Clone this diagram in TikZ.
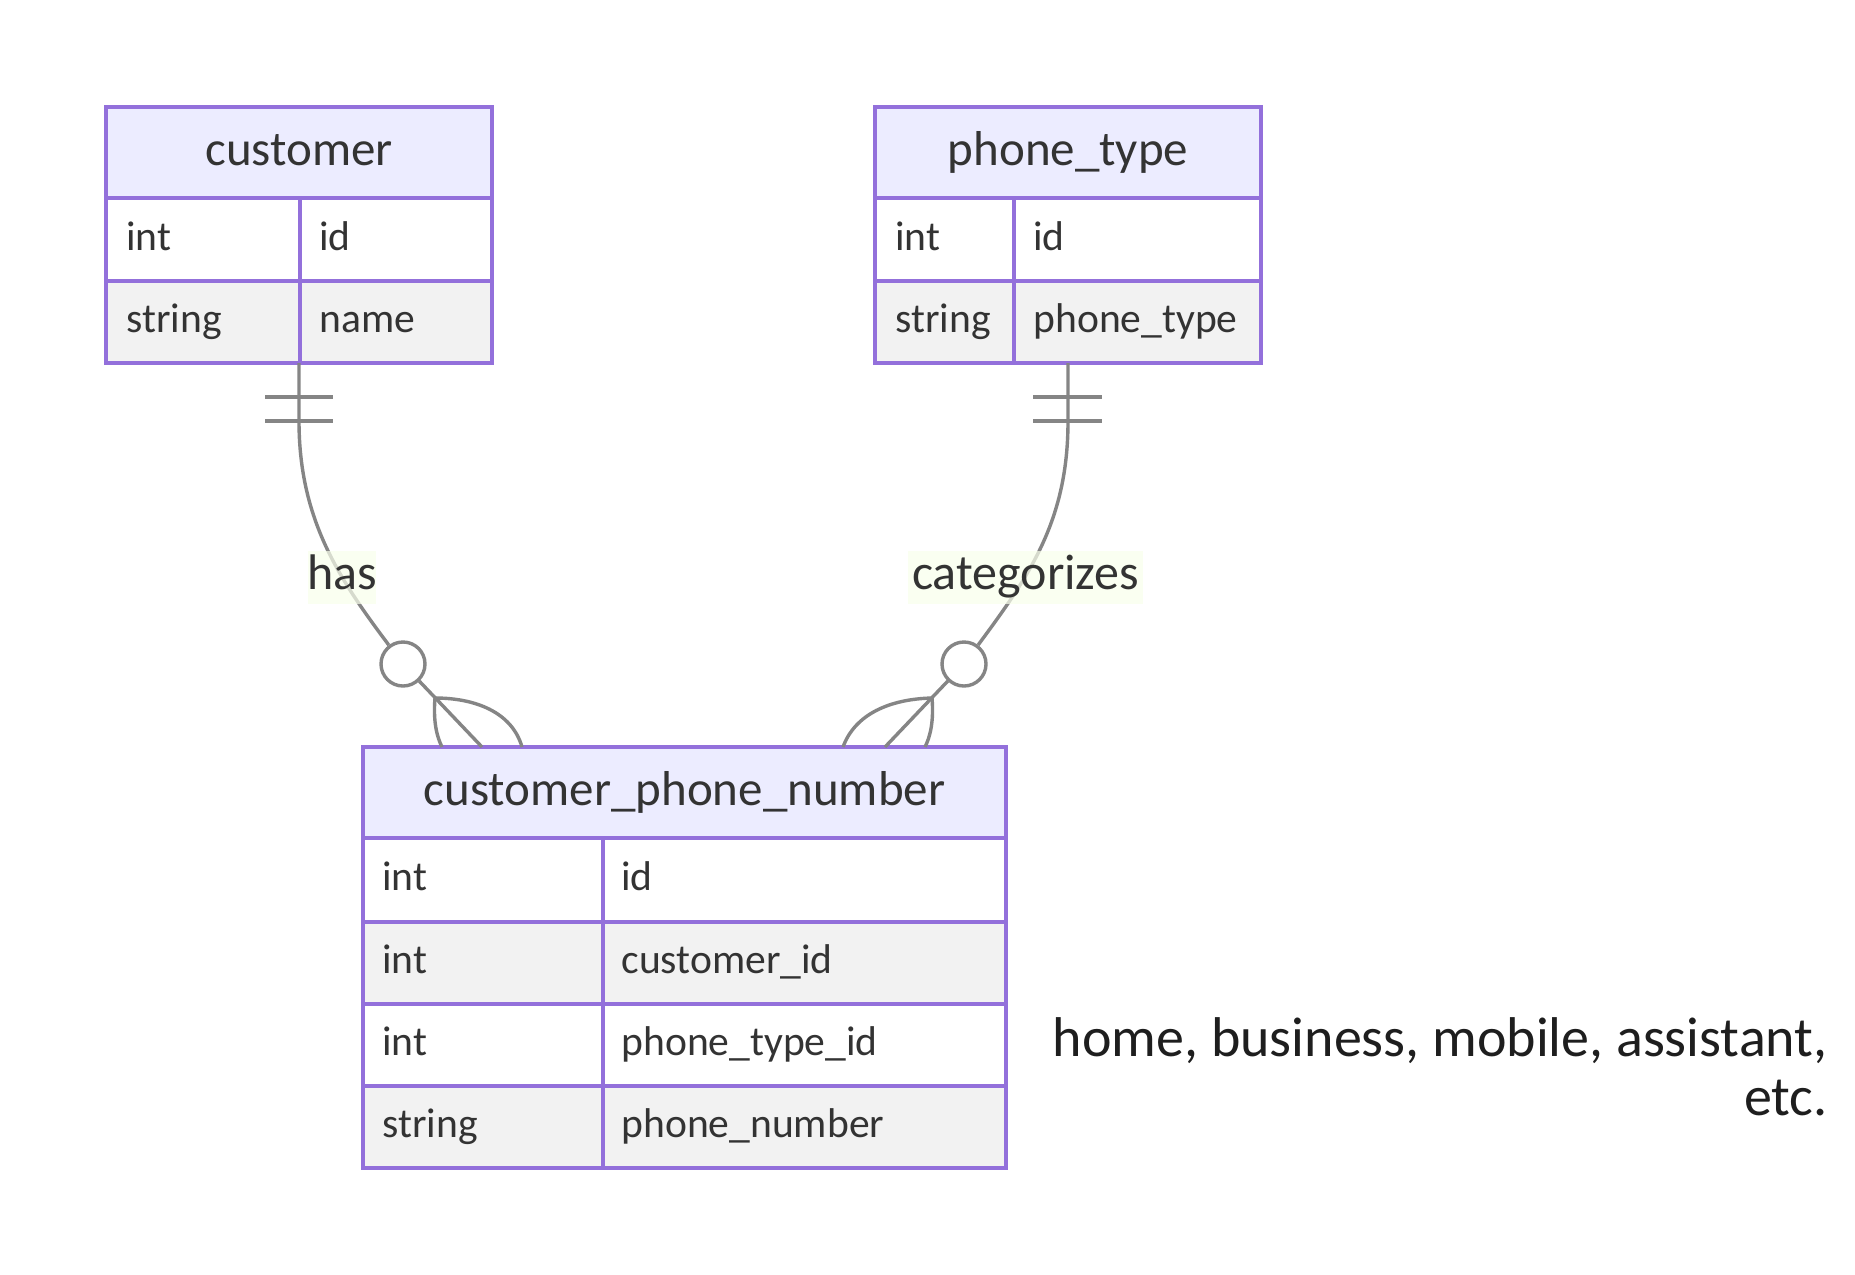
\documentclass[tikz,border=0pt]{standalone}
\usepackage{fontspec}
\setmainfont{Carlito}
\definecolor{ebord}{HTML}{9370DB}
\definecolor{ehead}{HTML}{ECECFF}
\definecolor{erow}{HTML}{F2F2F2}
\definecolor{etext}{HTML}{333333}
\definecolor{eline}{HTML}{858585}
\definecolor{elab}{RGB}{249,255,236}
\definecolor{enote}{HTML}{1E1E1E}
\begin{document}
\begin{tikzpicture}[x=0.5pt,y=-0.5pt,
  tbl/.style={draw=ebord,line width=1.75pt},
  hdr/.style={font=\fontsize{24.5}{29}\selectfont,text=etext,inner sep=0,anchor=base},
  attr/.style={font=\fontsize{20.8}{25}\selectfont,text=etext,inner sep=0,anchor=base west},
  rel/.style={draw=eline,line width=1.7pt},
  zero/.style={circle,draw=eline,line width=1.7pt,fill=white,minimum size=22pt,inner sep=0},
  lab/.style={font=\fontsize{25}{30}\selectfont,text=etext,inner sep=0,anchor=base},
  labbg/.style={fill=elab,fill opacity=0.7},
  notetext/.style={font=\fontsize{28}{33}\selectfont,text=enote,inner sep=0,anchor=base east}]
\fill[white] (0,0) rectangle (1855,1274);
\useasboundingbox (0,0) rectangle (1855,1274);

% ---------- customer ----------
\fill[ehead] (106,107) rectangle (492,198);
\fill[white] (106,198) rectangle (492,281);
\fill[erow] (106,281) rectangle (492,363);
\draw[tbl] (106,107) rectangle (492,363);
\draw[tbl] (106,198) -- (492,198) (106,281) -- (492,281) (300,198) -- (300,363);
\node[hdr] (custH) at (299,165) {customer};
\node[attr] (custT1) at (126,250) {int};
\node[attr] (custN1) at (319,250) {id};
\node[attr] (custT2) at (126,332) {string};
\node[attr] (custN2) at (319,332) {name};

% ---------- phone_type ----------
\fill[ehead] (875,107) rectangle (1261,198);
\fill[white] (875,198) rectangle (1261,281);
\fill[erow] (875,281) rectangle (1261,363);
\draw[tbl] (875,107) rectangle (1261,363);
\draw[tbl] (875,198) -- (1261,198) (875,281) -- (1261,281) (1014,198) -- (1014,363);
\node[hdr] (ptH) at (1068,165) {phone\_type};
\node[attr] (ptT1) at (895,250) {int};
\node[attr] (ptN1) at (1033,250) {id};
\node[attr] (ptT2) at (895,332) {string};
\node[attr] (ptN2) at (1033,332) {phone\_type};

% ---------- customer_phone_number ----------
\fill[ehead] (363,747) rectangle (1006,838);
\fill[white] (363,838) rectangle (1006,922);
\fill[erow] (363,922) rectangle (1006,1004);
\fill[white] (363,1004) rectangle (1006,1086);
\fill[erow] (363,1086) rectangle (1006,1168);
\draw[tbl] (363,747) rectangle (1006,1168);
\draw[tbl] (363,838) -- (1006,838) (363,922) -- (1006,922)
           (363,1004) -- (1006,1004) (363,1086) -- (1006,1086)
           (603,838) -- (603,1168);
\node[hdr] (cpnH) at (684.5,805) {customer\_phone\_number};
\node[attr] (cpnT1) at (382,890) {int};
\node[attr] (cpnN1) at (621,890) {id};
\node[attr] (cpnT2) at (382,973) {int};
\node[attr] (cpnN2) at (621,973) {customer\_id};
\node[attr] (cpnT3) at (382,1055) {int};
\node[attr] (cpnN3) at (621,1055) {phone\_type\_id};
\node[attr] (cpnT4) at (382,1137) {string};
\node[attr] (cpnN4) at (621,1137) {phone\_number};

% ---------- relation: customer has customer_phone_number ----------
\coordinate (custOut) at (299,363);
\coordinate (custBend) at (299,421);
\coordinate (cpnInA) at (482,747);
\coordinate (footA) at (435,698);
\node[zero] (zeroA) at (403,664) {};
\draw[rel] (custOut) -- (custBend) .. controls (299,520) and (340,580) .. (zeroA);
\draw[rel] (zeroA) -- (cpnInA);
\draw[rel] (footA) .. controls (433,722) and (437,737) .. (442,747);
\draw[rel] (footA) .. controls (475,698) and (512,712) .. (522,747);
\draw[rel] (265,397) -- (333,397) (265,421) -- (333,421);
\fill[labbg] (308,551) rectangle (376,604);
\node[lab] (hasL) at (342,589) {has};

% ---------- relation: phone_type categorizes customer_phone_number ----------
\coordinate (ptOut) at (1068,363);
\coordinate (ptBend) at (1068,421);
\coordinate (cpnInB) at (885,747);
\coordinate (footB) at (932,698);
\node[zero] (zeroB) at (964,664) {};
\draw[rel] (ptOut) -- (ptBend) .. controls (1068,520) and (1030,575) .. (zeroB);
\draw[rel] (zeroB) -- (cpnInB);
\draw[rel] (footB) .. controls (890,699) and (855,714) .. (843,747);
\draw[rel] (footB) .. controls (934,722) and (930,737) .. (925,747);
\draw[rel] (1033,397) -- (1102,397) (1033,421) -- (1102,421);
\fill[labbg] (908,551) rectangle (1143,604);
\node[lab] (catL) at (1025.5,589) {categorizes};

% ---------- note ----------
\node[notetext] (note1) at (1828,1056) {home, business, mobile, assistant,};
\node[notetext] (note2) at (1828,1115) {etc.};
\end{tikzpicture}
\end{document}
